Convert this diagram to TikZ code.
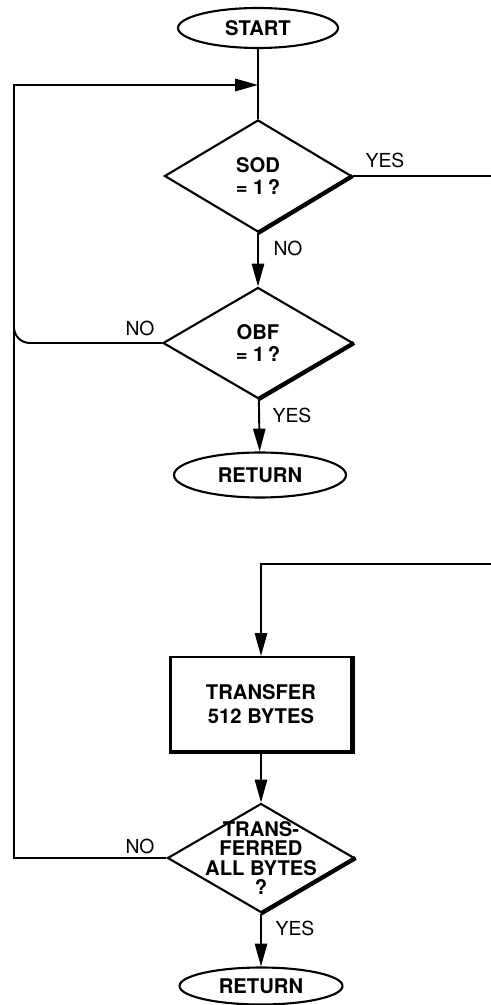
\documentclass[tikz,border=0pt]{standalone}
\usepackage{fontspec}
\setmainfont{TeX Gyre Heros}
\usetikzlibrary{shapes.geometric, arrows.meta}

\begin{document}
\begin{tikzpicture}[term/.style={draw, ellipse, minimum width=3.2cm, minimum height=0.8cm, inner sep=0pt, line width=1.2pt, font=\bfseries\fontsize{11.5}{12}\selectfont}, dec/.style={draw, diamond, inner sep=0pt, line width=1.2pt}, txt/.style={align=center, font=\bfseries\fontsize{11.5}{12.5}\selectfont}, proc/.style={draw, rectangle, minimum width=3.62cm, minimum height=1.88cm, line width=1.2pt, align=center, font=\bfseries\fontsize{11.5}{13.5}\selectfont}, heavy/.style={line width=2.4pt}, lbl/.style={font=\fontsize{11}{13}\selectfont}, l/.style={line width=1.1pt}, n/.style={-{Triangle[length=13pt, width=7pt]}, line width=1.1pt}]
            \useasboundingbox (0,0) rectangle (9.82,-20.1);
            % nodes
            \node[term] (start) at (5.16,-0.56) {START};
            \node[dec, minimum width=3.74cm, minimum height=2.24cm, label={[txt]center:{SOD\\= 1\,?}}] (sod) at (5.16,-3.52) {};
            \node[dec, minimum width=3.8cm, minimum height=2.22cm, label={[txt]center:{OBF\\= 1\,?}}] (obf) at (5.16,-6.86) {};
            \node[term, minimum width=3.44cm, minimum height=0.9cm] (ret1) at (5.2,-9.5) {RETURN};
            \node[proc] (xfer) at (5.22,-14.08) {TRANSFER\\512 BYTES};
            \node[dec, minimum width=3.74cm, minimum height=2.18cm, label={[txt, font=\bfseries\fontsize{11.5}{11}\selectfont]center:{TRANS-\\FERRED\\ALL BYTES\\?}}] (done) at (5.22,-17.16) {};
            \node[term, minimum width=3.26cm, minimum height=0.74cm] (ret2) at (5.22,-19.72) {RETURN};
            % points
            \coordinate (join) at (5.16,-1.7);
            \coordinate (yesout) at (9.82,-3.52);
            \coordinate (yesin) at (9.82,-11.28);
            \coordinate (loopb) at (0.28,-17.16);
            \coordinate (loopt) at (0.28,-1.7);
            \coordinate (nojoin) at (0.28,-6.2);
            % labels
            \node[lbl] (y1) at (7.7,-3.2) {YES};
            \node[lbl] (n1) at (5.76,-4.96) {NO};
            \node[lbl] (n2) at (2.8,-6.56) {NO};
            \node[lbl] (y2) at (5.84,-8.3) {YES};
            \node[lbl] (n3) at (2.8,-16.92) {NO};
            \node[lbl] (y3) at (5.9,-18.56) {YES};
            % heavy edges
            \draw[heavy] (sod.east) -- (sod.south);
            \draw[heavy] (obf.east) -- (obf.south);
            \draw[heavy] (done.east) -- (done.south);
            \draw[heavy] (xfer.north east) -- (xfer.south east) -- (xfer.south west);
            % edges
            \draw[l] (start) -- (sod);
            \draw[n] (sod) -- (obf);
            \draw[n] (obf) -- (ret1);
            \draw[l] (sod.east) -- (yesout);
            \draw[l, rounded corners=9pt] (obf.west) -| (nojoin);
            \draw[n] (yesin) -| (xfer);
            \draw[n] (xfer) -- (done);
            \draw[n] (done) -- (ret2);
            \draw[n] (done.west) -- (loopb) -- (loopt) -- (join);
        \end{tikzpicture}
\end{document}
